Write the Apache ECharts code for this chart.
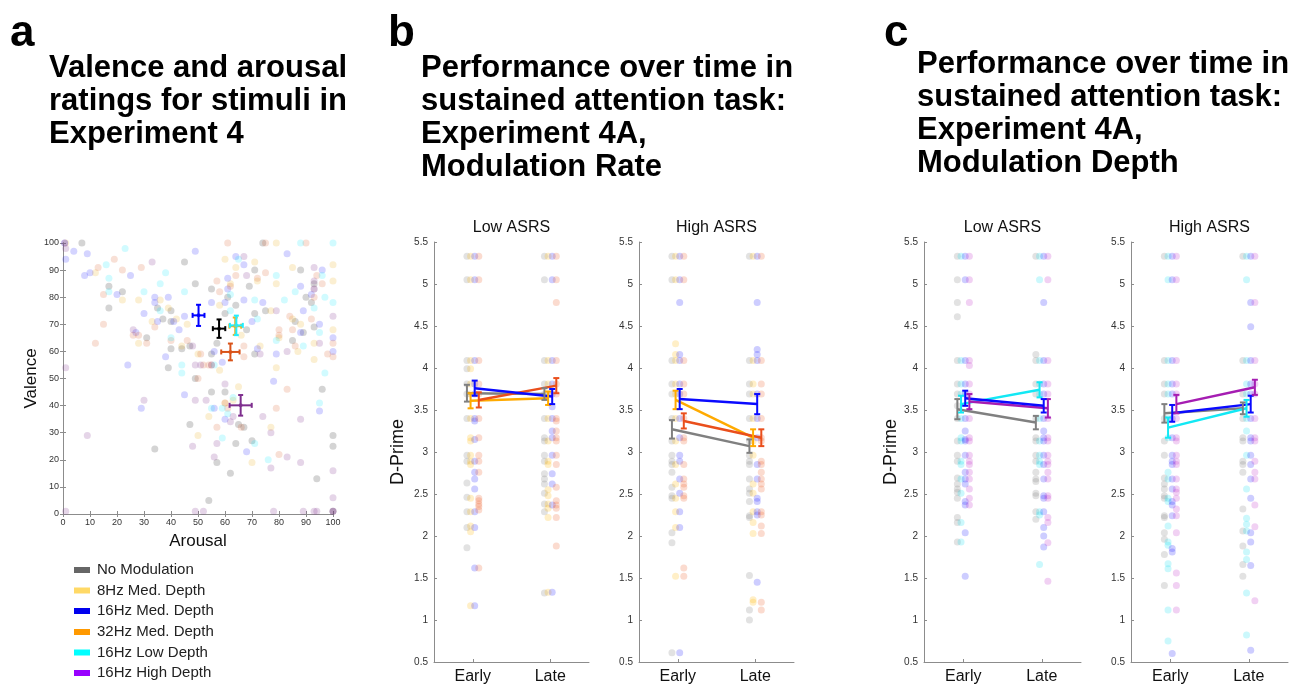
<!DOCTYPE html>
<html>
<head>
<meta charset="utf-8">
<script src="https://cdn.jsdelivr.net/npm/echarts@6/dist/echarts.min.js"></script>
<style>html,body{margin:0;padding:0;background:#fff}#c{width:1295px;height:685px}</style>
</head>
<body>
<div id="c"></div>
<script>
// ---------------- DATA ----------------
const LEGEND_NAMES = ['No Modulation', '8Hz Med. Depth', '16Hz Med. Depth', '32Hz Med. Depth', '16Hz Low Depth', '16Hz High Depth'];
const TIME_LABELS = ['Early', 'Late'];
const GROUP_LABELS = ['Low ASRS', 'High ASRS'];

// Panel a: [arousal, valence] per stimulus
const A_GRAY = [[7,100],[74,100],[45,93],[49,85],[17,84],[22,82],[55,83],[61,80],[64,77],[69,84],[71,90],[88,90],[93,85],[90,80],[92,78],[75,75],[71,74],[17,76],[35,76],[37,72],[40,75],[40,71],[31,65],[40,61],[44,61],[47,62],[55,59],[57,63],[68,68],[60,74],[71,59],[89,67],[93,69],[85,64],[86,71],[96,46],[39,54],[60,45],[55,45],[49,50],[47,33],[34,24],[57,19],[62,15],[54,5],[64,26],[65,33],[67,32],[70,27],[94,13],[100,29],[100,25],[100,1]];
const A_YELLOW = [[79,100],[60,94],[71,93],[12,89],[22,79],[28,79],[36,79],[39,76],[46,70],[44,62],[50,59],[58,77],[62,85],[64,91],[72,86],[77,75],[79,85],[85,72],[85,91],[100,86],[100,68],[100,92],[88,70],[93,63],[93,57],[87,60],[79,54],[80,65],[58,53],[50,29],[65,47],[63,42],[77,32],[70,19],[54,36],[60,41],[28,63],[1,100],[42,72],[33,71],[66,66],[73,62]];
const A_BLUE = [[0.6,100],[1,94],[4,97],[9,96],[10,89],[8,88],[25,88],[49,97],[83,96],[67,92],[34,80],[34,78],[39,80],[30,74],[35,71],[41,71],[43,68],[27,67],[45,73],[55,78],[60,78],[67,79],[61,83],[61,87],[74,78],[70,71],[89,75],[92,81],[93,83],[95,70],[96,90],[100,65],[100,60],[88,84],[88,67],[79,59],[72,61],[59,56],[56,60],[38,58],[24,55],[45,44],[29,39],[60,35],[78,49],[95,38],[68,23],[56,39],[20,81],[64,95]];
const A_ORANGE = [[61,100],[75,100],[90,100],[22,90],[29,91],[13,91],[15,81],[19,94],[15,70],[12,63],[26,66],[28,66],[31,63],[34,69],[40,64],[46,64],[57,86],[58,82],[64,88],[72,87],[75,89],[62,84],[80,68],[80,66],[84,73],[85,68],[86,62],[92,72],[93,83],[94,88],[93,80],[100,63],[100,58],[98,59],[96,85],[67,58],[67,62],[50,50],[51,59],[54,55],[61,39],[60,41],[57,32],[66,32],[79,39],[80,22],[83,46],[55,55],[52,55]];
const A_CYAN = [[23,98],[16,92],[17,87],[38,89],[36,85],[30,82],[45,82],[17,82],[36,75],[40,65],[65,94],[62,81],[62,75],[71,79],[72,72],[79,64],[82,79],[86,82],[88,100],[96,88],[97,80],[100,78],[95,67],[97,52],[93,76],[89,62],[79,88],[44,52],[56,55],[55,39],[59,39],[61,37],[59,28],[71,26],[76,20],[95,41],[63,43],[100,100],[44,55]];
const A_PURPLE = [[33,93],[1,98],[1,54],[9,29],[30,42],[49,42],[53,42],[51,55],[49,55],[48,25],[55,55],[57,26],[56,21],[60,48],[62,34],[63,36],[67,95],[68,88],[79,75],[77,17],[77,30],[74,36],[83,21],[88,35],[88,19],[89,1],[93,1],[94,1],[100,73],[100,16],[100,6],[100,1],[1,1],[49,1],[52,1],[78,1],[95,63],[93,91],[83,60],[73,59],[0.6,100],[93,86],[100,1],[26,68],[48,62]];
// Panel a means: [arousal, valence, arousal err, valence err]
const A_MEAN_GRAY = [57.8, 68.4, 2.3, 3.4];
const A_MEAN_YELLOW = [63.8, 69.3, 2.2, 3.2];
const A_MEAN_BLUE = [50.2, 73.3, 2.2, 3.9];
const A_MEAN_ORANGE = [62.0, 59.8, 3.4, 3.1];
const A_MEAN_CYAN = [64.2, 69.6, 2.4, 3.6];
const A_MEAN_PURPLE = [65.8, 40.1, 4.1, 3.8];

// Panel b (modulation rate): per-participant d' values
const B_LOW_GRAY_EARLY = [5.33,5.05,4.09,3.99,3.81,3.69,3.40,2.96,2.89,2.63,2.46,2.29,2.10,1.86];
const B_LOW_YELLOW_EARLY = [5.33,5.05,4.09,3.99,3.81,3.69,3.40,3.17,3.13,2.96,2.89,2.85,2.45,2.29,2.12,2.05,1.17];
const B_LOW_BLUE_EARLY = [5.33,5.05,4.09,3.81,3.69,3.40,3.37,3.15,2.89,2.76,2.68,2.56,2.29,2.10,1.62,1.17];
const B_LOW_RED_EARLY = [5.33,5.05,4.09,3.81,3.69,3.40,3.17,2.96,2.89,2.76,2.45,2.42,2.38,2.35,2.31,1.62];
const B_LOW_GRAY_LATE = [5.33,5.05,4.09,3.81,3.69,3.40,3.17,3.13,2.96,2.89,2.74,2.68,2.62,2.51,2.38,2.29,1.32];
const B_LOW_YELLOW_LATE = [5.33,4.09,3.81,3.69,3.40,3.13,2.89,2.85,2.55,2.48,2.38,2.33,2.22,1.33];
const B_LOW_BLUE_LATE = [5.33,5.05,4.09,3.81,3.69,3.54,3.40,3.25,3.17,2.96,2.74,2.62,2.37,1.33];
const B_LOW_RED_LATE = [5.33,5.05,4.78,4.09,3.81,3.69,3.40,3.37,3.25,3.17,3.13,2.96,2.85,2.58,2.42,2.37,2.33,2.22,1.88];
const B_HIGH_GRAY_EARLY = [5.33,5.05,4.09,3.81,3.69,3.40,3.13,2.96,2.89,2.85,2.76,2.58,2.48,2.45,2.04,1.92,0.61];
const B_HIGH_YELLOW_EARLY = [5.33,5.05,4.29,4.16,4.09,3.81,3.69,3.40,3.13,2.85,2.62,2.45,2.29,2.10,1.52];
const B_HIGH_BLUE_EARLY = [5.33,5.05,4.78,4.16,4.09,3.81,3.69,3.40,3.17,2.96,2.89,2.68,2.51,2.29,2.10,0.61];
const B_HIGH_RED_EARLY = [5.33,5.05,4.09,3.81,3.69,3.40,3.17,3.13,2.85,2.68,2.62,2.58,2.48,2.45,1.62,1.52];
const B_HIGH_GRAY_LATE = [5.33,4.09,3.81,3.69,3.40,3.13,2.96,2.89,2.85,2.68,2.56,2.51,2.41,2.24,2.22,1.53,1.12,1.00];
const B_HIGH_YELLOW_LATE = [5.33,4.09,3.81,3.69,3.40,3.13,2.96,2.62,2.51,2.29,2.16,2.03,1.24,1.21];
const B_HIGH_BLUE_LATE = [5.33,4.78,4.22,4.16,4.09,3.69,3.40,3.17,2.85,2.68,2.45,2.41,2.29,2.25,1.45];
const B_HIGH_RED_LATE = [5.33,4.09,3.81,3.69,3.40,3.17,3.13,2.89,2.85,2.76,2.68,2.62,2.56,2.29,2.25,2.12,2.03,1.21,1.12];
// Panel b means [early, late] and SEM [early, late]
const B_LOW_GRAY_MEAN = [3.70, 3.69], B_LOW_GRAY_SEM = [0.10, 0.07];
const B_LOW_YELLOW_MEAN = [3.61, 3.64], B_LOW_YELLOW_SEM = [0.09, 0.08];
const B_LOW_BLUE_MEAN = [3.76, 3.66], B_LOW_BLUE_SEM = [0.09, 0.09];
const B_LOW_RED_MEAN = [3.62, 3.79], B_LOW_RED_SEM = [0.09, 0.09];
const B_HIGH_GRAY_MEAN = [3.27, 3.07], B_HIGH_GRAY_SEM = [0.11, 0.08];
const B_HIGH_YELLOW_MEAN = [3.62, 3.17], B_HIGH_YELLOW_SEM = [0.11, 0.10];
const B_HIGH_BLUE_MEAN = [3.63, 3.57], B_HIGH_BLUE_SEM = [0.12, 0.12];
const B_HIGH_RED_MEAN = [3.37, 3.17], B_HIGH_RED_SEM = [0.09, 0.10];

// Panel c (modulation depth)
const C_LOW_GRAY_EARLY = [5.33,5.05,4.78,4.61,4.09,3.81,3.69,3.55,3.40,3.13,2.96,2.89,2.69,2.62,2.56,2.52,2.45,2.22,2.16,1.93];
const C_LOW_CYAN_EARLY = [5.33,4.09,3.81,3.69,3.40,3.17,3.13,2.89,2.85,2.68,2.51,2.16,1.93];
const C_LOW_BLUE_EARLY = [5.33,5.05,4.09,3.81,3.69,3.40,3.25,3.15,3.13,2.96,2.76,2.68,2.62,2.41,2.37,2.04,1.52];
const C_LOW_PURPLE_EARLY = [5.33,5.05,4.78,4.09,4.03,3.81,3.69,3.40,3.17,3.13,2.96,2.89,2.85,2.76,2.68,2.56,2.45,2.37];
const C_LOW_GRAY_LATE = [5.33,4.16,4.09,3.81,3.69,3.40,3.17,3.13,2.96,2.89,2.76,2.68,2.65,2.51,2.48,2.29,2.20];
const C_LOW_CYAN_LATE = [5.33,5.05,4.09,3.81,3.69,3.40,3.13,2.96,2.89,2.85,2.29,2.25,1.66];
const C_LOW_BLUE_LATE = [5.33,4.78,4.09,3.81,3.69,3.40,3.25,3.17,3.13,2.96,2.85,2.68,2.48,2.45,2.29,2.10,2.00,1.87];
const C_LOW_PURPLE_LATE = [5.33,5.05,4.09,3.81,3.69,3.40,3.17,3.13,2.96,2.89,2.85,2.76,2.68,2.48,2.45,2.22,2.16,1.92,1.46];
const C_HIGH_GRAY_EARLY = [5.33,4.09,3.81,3.69,3.40,3.13,2.96,2.69,2.62,2.56,2.48,2.45,2.24,2.22,2.04,1.96,1.78,1.41];
const C_HIGH_CYAN_EARLY = [5.33,5.05,4.09,3.81,3.69,3.40,3.17,2.76,2.68,2.45,2.41,2.12,1.93,1.89,1.67,1.61,1.12,0.75];
const C_HIGH_BLUE_EARLY = [5.33,5.05,4.09,3.81,3.69,3.40,3.17,2.96,2.89,2.85,2.68,2.56,2.41,2.37,2.24,1.85,1.81,0.60];
const C_HIGH_PURPLE_EARLY = [5.33,5.05,4.09,3.81,3.69,3.40,3.17,3.13,2.96,2.89,2.85,2.68,2.56,2.52,2.45,2.32,2.24,2.04,1.56,1.41,1.12];
const C_HIGH_GRAY_LATE = [5.33,4.09,3.69,3.40,3.17,3.13,2.89,2.85,2.76,2.32,2.06,1.88,1.66,1.52];
const C_HIGH_CYAN_LATE = [5.33,5.05,4.09,3.81,3.69,3.40,3.25,2.96,2.56,2.21,2.14,2.06,1.81,1.72,1.32,0.82];
const C_HIGH_BLUE_LATE = [5.33,4.78,4.49,4.09,3.81,3.69,3.40,3.17,3.13,2.96,2.85,2.68,2.45,2.04,1.93,1.65,0.64];
const C_HIGH_PURPLE_LATE = [5.33,4.78,4.09,3.81,3.69,3.40,3.17,3.13,2.89,2.76,2.68,2.37,2.11,1.23];
const C_LOW_GRAY_MEAN = [3.51, 3.35], C_LOW_GRAY_SEM = [0.12, 0.08];
const C_LOW_CYAN_MEAN = [3.57, 3.74], C_LOW_CYAN_SEM = [0.10, 0.09];
const C_LOW_BLUE_MEAN = [3.64, 3.55], C_LOW_BLUE_SEM = [0.09, 0.08];
const C_LOW_PURPLE_MEAN = [3.60, 3.52], C_LOW_PURPLE_SEM = [0.09, 0.11];
const C_HIGH_GRAY_MEAN = [3.46, 3.52], C_HIGH_GRAY_SEM = [0.11, 0.07];
const C_HIGH_CYAN_MEAN = [3.29, 3.52], C_HIGH_CYAN_SEM = [0.12, 0.10];
const C_HIGH_BLUE_MEAN = [3.46, 3.57], C_HIGH_BLUE_SEM = [0.10, 0.10];
const C_HIGH_PURPLE_MEAN = [3.57, 3.77], C_HIGH_PURPLE_SEM = [0.11, 0.09];

// ---------------- STYLE ----------------
const FONT = 'Liberation Sans, Arial, sans-serif';
const AXIS_COLOR = '#8c8c8c';
const LEGEND_COLORS = ['#666666', '#ffd966', '#0000ee', '#ff9900', '#00ffff', '#9900ff'];
const OFFSETS = [-0.075, -0.028, 0.025, 0.078];
const COL = {
  gray: {line: '#808080', dot: '#7a7a7a'},
  yellow: {line: '#ffaa00', dot: '#ffb700'},
  blue: {line: '#0a0aff', dot: '#1a1aff'},
  red: {line: '#ea4f1c', dot: '#ee5a25'},
  cyan: {line: '#12e8f4', dot: '#12e0f0'},
  purple: {line: '#a51db2', dot: '#bf2fc8'}
};
const A_COL = {
  gray: {dot: '#3a3a3a', mean: '#000000'},
  yellow: {dot: '#edb120', mean: '#edb120'},
  blue: {dot: '#1010ff', mean: '#0000ff'},
  orange: {dot: '#d95319', mean: '#d95319'},
  cyan: {dot: '#00e8ff', mean: '#22eeff'},
  purple: {dot: '#7e2f8e', mean: '#7e2f8e'}
};

// ---------------- GRIDS ----------------
const grids = [
  {left: 63, top: 243, width: 270, height: 271},
  {left: 434, top: 242, width: 155, height: 421},
  {left: 639, top: 242, width: 155, height: 421},
  {left: 924, top: 242, width: 157, height: 421},
  {left: 1131, top: 242, width: 157, height: 421}
];

const xAxes = [], yAxes = [];
// panel a axes
const aTickLabel = {fontSize: 9, color: '#333', fontFamily: FONT, margin: 4};
xAxes.push({type: 'value', gridIndex: 0, min: 0, max: 100, interval: 10,
  axisLine: {show: true, lineStyle: {color: AXIS_COLOR}},
  axisTick: {inside: true, length: 3, lineStyle: {color: AXIS_COLOR}},
  axisLabel: aTickLabel, splitLine: {show: false},
  name: 'Arousal', nameLocation: 'middle', nameGap: 19,
  nameTextStyle: {fontSize: 17, color: '#111', fontFamily: FONT}});
xAxes.push({type: 'value', gridIndex: 0, position: 'top', min: 0, max: 100, interval: 10,
  axisLine: {show: true, lineStyle: {color: AXIS_COLOR}},
  axisTick: {inside: true, length: 3, lineStyle: {color: AXIS_COLOR}},
  axisLabel: {show: false}, splitLine: {show: false}});
yAxes.push({type: 'value', gridIndex: 0, min: 0, max: 100, interval: 10,
  axisLine: {show: true, lineStyle: {color: AXIS_COLOR}},
  axisTick: {inside: true, length: 3, lineStyle: {color: AXIS_COLOR}},
  axisLabel: aTickLabel, splitLine: {show: false},
  name: 'Valence', nameLocation: 'middle', nameGap: 13, nameRotate: 90,
  nameTextStyle: {fontSize: 17, color: '#111', fontFamily: FONT}});
yAxes.push({type: 'value', gridIndex: 0, position: 'right', min: 0, max: 100, interval: 10,
  axisLine: {show: true, lineStyle: {color: AXIS_COLOR}},
  axisTick: {inside: true, length: 3, lineStyle: {color: AXIS_COLOR}},
  axisLabel: {show: false}, splitLine: {show: false}});

for (let g = 1; g <= 4; g++) {
  xAxes.push({type: 'value', gridIndex: g, min: 0.5, max: 2.5,
    axisLine: {show: true, onZero: false, lineStyle: {color: AXIS_COLOR}},
    axisTick: {show: true, inside: true, length: 3, customValues: [1, 2], lineStyle: {color: AXIS_COLOR}},
    axisLabel: {customValues: [1, 2], formatter: v => TIME_LABELS[Math.round(v) - 1],
      fontSize: 16, color: '#111', fontFamily: FONT, margin: 7},
    splitLine: {show: false}});
  yAxes.push({type: 'value', gridIndex: g, min: 0.5, max: 5.5, interval: 0.5,
    axisLine: {show: true, lineStyle: {color: AXIS_COLOR}},
    axisTick: {show: true, inside: true, length: 3, lineStyle: {color: AXIS_COLOR}},
    axisLabel: {fontSize: 10, color: '#333', fontFamily: FONT, margin: 6},
    splitLine: {show: false},
    name: (g === 1 || g === 3) ? 'D-Prime' : '', nameLocation: 'middle', nameGap: g === 1 ? 27 : 19, nameRotate: 90,
    nameTextStyle: {fontSize: 18, color: '#111', fontFamily: FONT}});
}

// ---------------- SERIES ----------------
const series = [];

function aScatter(data, color, op) {
  series.push({type: 'scatter', xAxisIndex: 0, yAxisIndex: 0, data: data, symbolSize: 7,
    silent: true, itemStyle: {color: color, opacity: op}, z: 2});
}
aScatter(A_GRAY, A_COL.gray.dot, 0.22);
aScatter(A_YELLOW, A_COL.yellow.dot, 0.2);
aScatter(A_BLUE, A_COL.blue.dot, 0.18);
aScatter(A_ORANGE, A_COL.orange.dot, 0.18);
aScatter(A_CYAN, A_COL.cyan.dot, 0.18);
aScatter(A_PURPLE, A_COL.purple.dot, 0.2);

function cross(params, api) {
  const x = api.value(0), y = api.value(1), ex = api.value(2), ey = api.value(3);
  const c = api.visual('color');
  const l = api.coord([x - ex, y]), r = api.coord([x + ex, y]);
  const t = api.coord([x, y + ey]), b = api.coord([x, y - ey]);
  const cap = 2.5, st = {stroke: c, lineWidth: 2};
  const mk = (x1, y1, x2, y2) => ({type: 'line', shape: {x1, y1, x2, y2}, style: st});
  return {type: 'group', children: [
    mk(l[0], l[1], r[0], r[1]), mk(t[0], t[1], b[0], b[1]),
    mk(l[0], l[1] - cap, l[0], l[1] + cap), mk(r[0], r[1] - cap, r[0], r[1] + cap),
    mk(t[0] - cap, t[1], t[0] + cap, t[1]), mk(b[0] - cap, b[1], b[0] + cap, b[1])
  ]};
}
function aMean(m, color) {
  series.push({type: 'custom', xAxisIndex: 0, yAxisIndex: 0, renderItem: cross, silent: true,
    itemStyle: {color: color}, data: [m], encode: {x: 0, y: 1}, z: 5});
  series.push({type: 'scatter', xAxisIndex: 0, yAxisIndex: 0, data: [[m[0], m[1]]], symbolSize: 4,
    silent: true, itemStyle: {color: color}, z: 6});
}
aMean(A_MEAN_YELLOW, A_COL.yellow.mean);
aMean(A_MEAN_CYAN, A_COL.cyan.mean);
aMean(A_MEAN_GRAY, A_COL.gray.mean);
aMean(A_MEAN_BLUE, A_COL.blue.mean);
aMean(A_MEAN_ORANGE, A_COL.orange.mean);
aMean(A_MEAN_PURPLE, A_COL.purple.mean);

function vErr(params, api) {
  const x = api.value(0), lo = api.value(2), hi = api.value(3);
  const c = api.visual('color');
  const p1 = api.coord([x, lo]), p2 = api.coord([x, hi]);
  const cap = 3, st = {stroke: c, lineWidth: 2};
  return {type: 'group', children: [
    {type: 'line', shape: {x1: p1[0], y1: p1[1], x2: p2[0], y2: p2[1]}, style: st},
    {type: 'line', shape: {x1: p1[0] - cap, y1: p1[1], x2: p1[0] + cap, y2: p1[1]}, style: st},
    {type: 'line', shape: {x1: p2[0] - cap, y1: p2[1], x2: p2[0] + cap, y2: p2[1]}, style: st}
  ]};
}

function condition(axis, idx, early, late, col) {
  const off = OFFSETS[idx];
  const pts = early.map(v => [1 + off, v]).concat(late.map(v => [2 + off, v]));
  series.push({type: 'scatter', xAxisIndex: axis, yAxisIndex: axis, data: pts, symbolSize: 7,
    silent: true, itemStyle: {color: col.dot, opacity: 0.22}, z: 2});
}
function conditionMean(axis, idx, mean, sem, col) {
  const off = OFFSETS[idx];
  series.push({type: 'line', xAxisIndex: axis, yAxisIndex: axis, showSymbol: false, silent: true,
    data: [[1 + off, mean[0]], [2 + off, mean[1]]], lineStyle: {color: col.line, width: 2.5},
    itemStyle: {color: col.line}, z: 5});
  series.push({type: 'custom', xAxisIndex: axis, yAxisIndex: axis, renderItem: vErr, silent: true,
    itemStyle: {color: col.line}, encode: {x: 0, y: 1}, z: 6,
    data: [[1 + off, mean[0], mean[0] - sem[0], mean[0] + sem[0]],
           [2 + off, mean[1], mean[1] - sem[1], mean[1] + sem[1]]]});
}

// Panel b low (axis 2)
condition(2, 0, B_LOW_GRAY_EARLY, B_LOW_GRAY_LATE, COL.gray);
condition(2, 1, B_LOW_YELLOW_EARLY, B_LOW_YELLOW_LATE, COL.yellow);
condition(2, 2, B_LOW_BLUE_EARLY, B_LOW_BLUE_LATE, COL.blue);
condition(2, 3, B_LOW_RED_EARLY, B_LOW_RED_LATE, COL.red);
conditionMean(2, 0, B_LOW_GRAY_MEAN, B_LOW_GRAY_SEM, COL.gray);
conditionMean(2, 1, B_LOW_YELLOW_MEAN, B_LOW_YELLOW_SEM, COL.yellow);
conditionMean(2, 3, B_LOW_RED_MEAN, B_LOW_RED_SEM, COL.red);
conditionMean(2, 2, B_LOW_BLUE_MEAN, B_LOW_BLUE_SEM, COL.blue);
// Panel b high (axis 3)
condition(3, 0, B_HIGH_GRAY_EARLY, B_HIGH_GRAY_LATE, COL.gray);
condition(3, 1, B_HIGH_YELLOW_EARLY, B_HIGH_YELLOW_LATE, COL.yellow);
condition(3, 2, B_HIGH_BLUE_EARLY, B_HIGH_BLUE_LATE, COL.blue);
condition(3, 3, B_HIGH_RED_EARLY, B_HIGH_RED_LATE, COL.red);
conditionMean(3, 0, B_HIGH_GRAY_MEAN, B_HIGH_GRAY_SEM, COL.gray);
conditionMean(3, 1, B_HIGH_YELLOW_MEAN, B_HIGH_YELLOW_SEM, COL.yellow);
conditionMean(3, 3, B_HIGH_RED_MEAN, B_HIGH_RED_SEM, COL.red);
conditionMean(3, 2, B_HIGH_BLUE_MEAN, B_HIGH_BLUE_SEM, COL.blue);
// Panel c low (axis 4)
condition(4, 0, C_LOW_GRAY_EARLY, C_LOW_GRAY_LATE, COL.gray);
condition(4, 1, C_LOW_CYAN_EARLY, C_LOW_CYAN_LATE, COL.cyan);
condition(4, 2, C_LOW_BLUE_EARLY, C_LOW_BLUE_LATE, COL.blue);
condition(4, 3, C_LOW_PURPLE_EARLY, C_LOW_PURPLE_LATE, COL.purple);
conditionMean(4, 0, C_LOW_GRAY_MEAN, C_LOW_GRAY_SEM, COL.gray);
conditionMean(4, 1, C_LOW_CYAN_MEAN, C_LOW_CYAN_SEM, COL.cyan);
conditionMean(4, 3, C_LOW_PURPLE_MEAN, C_LOW_PURPLE_SEM, COL.purple);
conditionMean(4, 2, C_LOW_BLUE_MEAN, C_LOW_BLUE_SEM, COL.blue);
// Panel c high (axis 5)
condition(5, 0, C_HIGH_GRAY_EARLY, C_HIGH_GRAY_LATE, COL.gray);
condition(5, 1, C_HIGH_CYAN_EARLY, C_HIGH_CYAN_LATE, COL.cyan);
condition(5, 2, C_HIGH_BLUE_EARLY, C_HIGH_BLUE_LATE, COL.blue);
condition(5, 3, C_HIGH_PURPLE_EARLY, C_HIGH_PURPLE_LATE, COL.purple);
conditionMean(5, 0, C_HIGH_GRAY_MEAN, C_HIGH_GRAY_SEM, COL.gray);
conditionMean(5, 1, C_HIGH_CYAN_MEAN, C_HIGH_CYAN_SEM, COL.cyan);
conditionMean(5, 2, C_HIGH_BLUE_MEAN, C_HIGH_BLUE_SEM, COL.blue);
conditionMean(5, 3, C_HIGH_PURPLE_MEAN, C_HIGH_PURPLE_SEM, COL.purple);

// ---------------- TEXT / LEGEND ----------------
const graphic = [];
function txt(x, y, text, font, opts) {
  graphic.push(Object.assign({type: 'text', x: x, y: y, silent: true,
    style: Object.assign({text: text, font: font, fill: '#000', verticalAlign: 'top', align: 'left'}, opts || {})}));
}
const LETTER_FONT = 'bold 44px ' + FONT;
const TITLE_FONT = 'bold 31px ' + FONT;
txt(10, 12, 'a', LETTER_FONT);
txt(388, 12, 'b', LETTER_FONT);
txt(884, 12, 'c', LETTER_FONT);
txt(49, 52, 'Valence and arousal\nratings for stimuli in\nExperiment 4', TITLE_FONT, {lineHeight: 33});
txt(421, 52, 'Performance over time in\nsustained attention task:\nExperiment 4A,\nModulation Rate', TITLE_FONT, {lineHeight: 33});
txt(917, 48, 'Performance over time in\nsustained attention task:\nExperiment 4A,\nModulation Depth', TITLE_FONT, {lineHeight: 33});
// subplot titles
[[1, 0], [2, 1], [3, 0], [4, 1]].forEach(([g, k]) => {
  txt(grids[g].left + grids[g].width / 2, 228, GROUP_LABELS[k], '16px ' + FONT,
    {align: 'center', verticalAlign: 'middle', fill: '#111'});
});
// legend
const LEG_Y = [570, 590.5, 611, 632, 652.5, 673];
LEGEND_NAMES.forEach((n, i) => {
  graphic.push({type: 'rect', silent: true, shape: {x: 74, y: LEG_Y[i] - 3, width: 16, height: 6},
    style: {fill: LEGEND_COLORS[i]}});
  txt(97, LEG_Y[i], n, '15px ' + FONT, {verticalAlign: 'middle', fill: '#222'});
});

const chart = echarts.init(document.getElementById('c'), null, {renderer: 'canvas'});
chart.setOption({
  animation: false,
  backgroundColor: '#fff',
  grid: grids,
  xAxis: xAxes,
  yAxis: yAxes,
  series: series,
  graphic: graphic
});
</script>
</body>
</html>
